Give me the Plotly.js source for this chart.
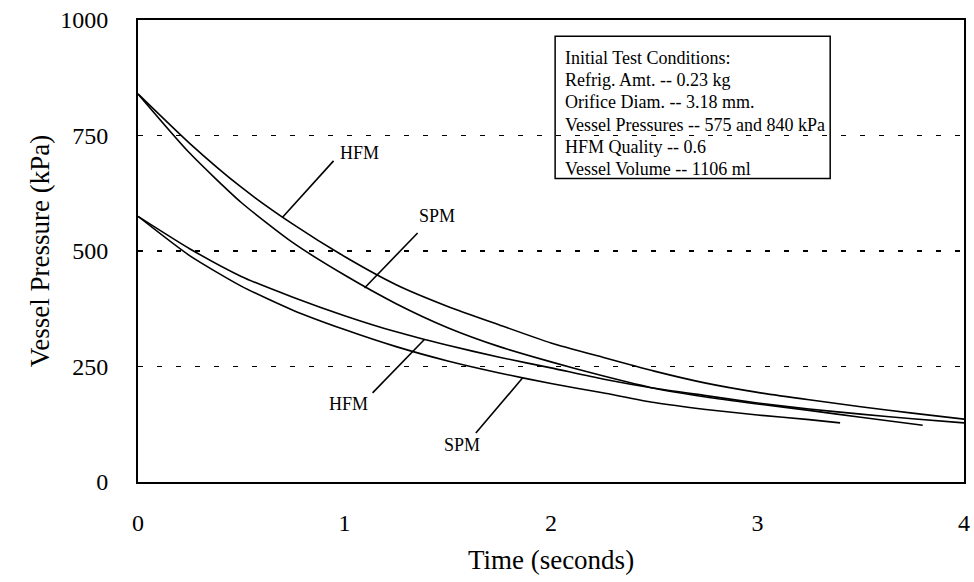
<!DOCTYPE html>
<html>
<head>
<meta charset="utf-8">
<script src="https://cdn.plot.ly/plotly-3.0.1.min.js"></script>
<style>html,body{margin:0;padding:0;background:#fff;}#chart{width:974px;height:582px;}</style>
</head>
<body>
<div id="chart"></div>
<script>
// Time axis samples (seconds)
const timeUpperHFM = [0, 0.25, 0.5, 0.75, 1.0, 1.25, 1.5, 1.75, 2.0, 2.25, 2.5, 2.75, 3.0, 3.25, 3.5, 3.75, 4.0];
const upperHFM     = [840, 733, 638, 558, 488, 427, 380, 340, 301, 270, 240, 214, 194, 178, 163, 149, 136];

const timeUpperSPM = [0, 0.25, 0.5, 0.75, 1.0, 1.25, 1.5, 1.75, 2.0, 2.25, 2.5, 2.75, 3.0, 3.25, 3.5, 3.8];
const upperSPM     = [840, 712, 605, 518, 448, 386, 334, 293, 260, 230, 203, 184, 169, 155, 140, 123];

const timeLowerHFM = [0, 0.25, 0.5, 0.75, 1.0, 1.25, 1.5, 1.75, 2.0, 2.25, 2.5, 2.75, 3.0, 3.25, 3.5, 3.75, 4.0];
const lowerHFM     = [575, 505, 445, 400, 360, 325, 296, 270, 247, 223, 203, 187, 171, 158, 147, 137, 128];

const timeLowerSPM = [0, 0.25, 0.5, 0.75, 1.0, 1.25, 1.5, 1.75, 2.0, 2.25, 2.5, 2.75, 3.0, 3.25, 3.4];
const lowerSPM     = [575, 490, 424, 372, 330, 293, 262, 236, 213, 193, 172, 157, 145, 135, 128];

const yTicks = [0, 250, 500, 750, 1000];
const xTicks = [0, 1, 2, 3, 4];

const infoLines = [
  "Initial Test Conditions:",
  "Refrig. Amt. -- 0.23 kg",
  "Orifice Diam. -- 3.18 mm.",
  "Vessel Pressures -- 575 and 840 kPa",
  "HFM Quality -- 0.6",
  "Vessel Volume -- 1106 ml"
];

// Curve labels: [text, text t, text P, pointer start t, pointer start P, pointer end t, pointer end P]
const curveLabels = [
  ["HFM", 1.073, 712, 0.947, 695, 0.70, 573],
  ["SPM", 1.447, 576, 1.354, 539, 1.097, 420],
  ["HFM", 1.019, 169, 1.136, 193, 1.388, 309],
  ["SPM", 1.568, 80, 1.636, 106, 1.864, 226]
];

const FONT = "Liberation Serif, Times New Roman, serif";
const lineStyle = {color: "#000", width: 1.6, shape: "spline", smoothing: 0.6};

const traces = [
  {x: timeUpperHFM, y: upperHFM, name: "HFM 840", mode: "lines", line: lineStyle},
  {x: timeUpperSPM, y: upperSPM, name: "SPM 840", mode: "lines", line: lineStyle},
  {x: timeLowerHFM, y: lowerHFM, name: "HFM 575", mode: "lines", line: lineStyle},
  {x: timeLowerSPM, y: lowerSPM, name: "SPM 575", mode: "lines", line: lineStyle}
];

const shapes = curveLabels.map(c => ({
  type: "line", xref: "x", yref: "y",
  x0: c[3], y0: c[4], x1: c[5], y1: c[6],
  line: {color: "#000", width: 1.6}
}));

// info box frame (paper coordinates)
const boxLeft = 0.505, boxTop = 0.965, boxRight = 0.838, boxBottom = 0.657;
shapes.push({
  type: "rect", xref: "paper", yref: "paper",
  x0: boxLeft, x1: boxRight, y0: boxBottom, y1: boxTop,
  line: {color: "#000", width: 1.5}, fillcolor: "rgba(0,0,0,0)"
});

const annotations = curveLabels.map(c => ({
  x: c[1], y: c[2], xref: "x", yref: "y", text: c[0], showarrow: false,
  font: {family: FONT, size: 18, color: "#000"}
}));

const lineStep = 22.3 / 462;  // line spacing in paper units
infoLines.forEach((t, i) => {
  annotations.push({
    xref: "paper", yref: "paper", x: boxLeft + 0.009, y: 0.918 - i * lineStep,
    xanchor: "left", yanchor: "middle", align: "left", showarrow: false, text: t,
    font: {family: FONT, size: 18, color: "#000"}
  });
});

const layout = {
  width: 974, height: 582,
  margin: {l: 138, r: 10, t: 20, b: 100},
  paper_bgcolor: "#fff", plot_bgcolor: "#fff",
  showlegend: false,
  font: {family: FONT, color: "#000", size: 24},
  xaxis: {
    range: [0, 4], tickvals: xTicks, ticktext: xTicks.map(String),
    showgrid: false, zeroline: false, showline: true, mirror: true,
    linecolor: "#000", linewidth: 2, ticks: "",
    ticklabelstandoff: 18,
    tickfont: {family: FONT, size: 24, color: "#000"},
    title: {text: "Time (seconds)", font: {family: FONT, size: 27, color: "#000"}, standoff: 15}
  },
  yaxis: {
    range: [0, 1000], tickvals: yTicks, ticktext: yTicks.map(String),
    showgrid: true, gridcolor: "#000", gridwidth: 1.5, griddash: "5px,14px",
    zeroline: false, showline: true, mirror: true,
    linecolor: "#000", linewidth: 2, ticks: "",
    ticklabelstandoff: 23,
    tickfont: {family: FONT, size: 24, color: "#000"},
    title: {text: "Vessel Pressure (kPa)", font: {family: FONT, size: 27, color: "#000"}, standoff: 3}
  },
  shapes: shapes,
  annotations: annotations
};

Plotly.newPlot("chart", traces, layout, {staticPlot: true, displayModeBar: false});
</script>
</body>
</html>
